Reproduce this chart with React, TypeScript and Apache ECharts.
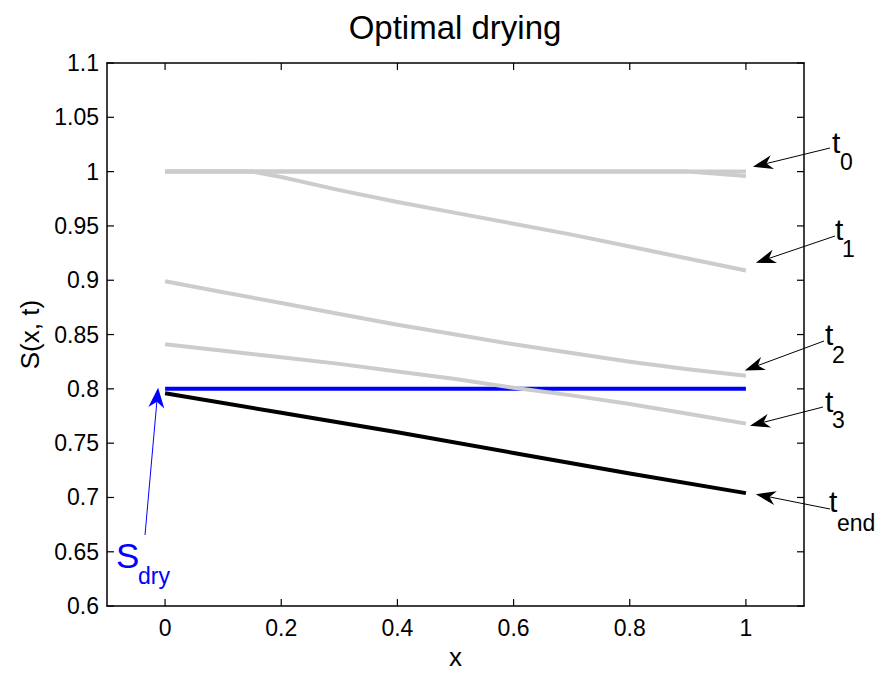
import React, { useEffect, useRef } from "react";
import * as echarts from "echarts";

const FONT = '"Liberation Sans", Arial, Helvetica, sans-serif';

// Axis ticks
const xTicks = [0, 0.2, 0.4, 0.6, 0.8, 1];
const yTicks = [0.6, 0.65, 0.7, 0.75, 0.8, 0.85, 0.9, 0.95, 1, 1.05, 1.1];

// Profiles S(x, t)
const xGrid = [0, 0.1, 0.2, 0.3, 0.4, 0.5, 0.6, 0.7, 0.8, 0.9, 1];

const t0X = [0, 1];
const t0Y = [1, 1];

const t0bX = [0, 0.9, 1];
const t0bY = [1, 1, 0.996];

const t1X = [0, 0.15, 0.2, 0.3, 0.4, 0.5, 0.6, 0.7, 0.8, 0.9, 1];
const t1Y = [1, 1, 0.995, 0.983, 0.972, 0.962, 0.952, 0.942, 0.931, 0.92, 0.909];

const t2Y = [0.899, 0.889, 0.879, 0.869, 0.859, 0.85, 0.841, 0.833, 0.825, 0.818, 0.812];
const t3Y = [0.841, 0.835, 0.829, 0.823, 0.816, 0.809, 0.801, 0.794, 0.786, 0.777, 0.768];

const sDryX = [0, 1];
const sDryY = [0.8, 0.8];

const tEndX = [0, 0.2, 0.4, 0.6, 0.8, 1];
const tEndY = [0.796, 0.778, 0.76, 0.741, 0.722, 0.704];

const pairs = (xs: number[], ys: number[]) => xs.map((x, i) => [x, ys[i]]);

// Annotation labels (arrow tip in data coordinates, text/tail in pixels)
const annotations = [
  { main: "t", sub: "0", tip: [1.012, 1.0044], tail: [830, 148], mx: 832, mBase: 153, sx: 840, sBase: 170 },
  { main: "t", sub: "1", tip: [1.017, 0.916], tail: [835, 236], mx: 835, mBase: 240, sx: 842, sBase: 257 },
  { main: "t", sub: "2", tip: [0.998, 0.817], tail: [824, 341], mx: 825, mBase: 345, sx: 832, sBase: 363 },
  { main: "t", sub: "3", tip: [1.007, 0.766], tail: [823, 407], mx: 825, mBase: 412, sx: 832, sBase: 428 },
  { main: "t", sub: "end", tip: [1.017, 0.703], tail: [830, 509], mx: 829, mBase: 512, sx: 837, sBase: 531 },
];

const GREY = "#cccccc";

function arrow(tail: number[], tip: number[], color: string, L: number, W: number, lw: number) {
  const dx = tip[0] - tail[0];
  const dy = tip[1] - tail[1];
  const len = Math.sqrt(dx * dx + dy * dy);
  const ux = dx / len;
  const uy = dy / len;
  const nx = -uy;
  const ny = ux;
  const back = [tip[0] - L * ux, tip[1] - L * uy];
  const notch = [tip[0] - 0.7 * L * ux, tip[1] - 0.7 * L * uy];
  return [
    {
      type: "line",
      silent: true,
      shape: { x1: tail[0], y1: tail[1], x2: notch[0], y2: notch[1] },
      style: { stroke: color, lineWidth: lw },
    },
    {
      type: "polygon",
      silent: true,
      shape: {
        points: [
          [tip[0], tip[1]],
          [back[0] + W * nx, back[1] + W * ny],
          [notch[0], notch[1]],
          [back[0] - W * nx, back[1] - W * ny],
        ],
      },
      style: { fill: color },
    },
  ];
}

function txt(text: string, x: number, base: number, size: number, color: string) {
  return {
    type: "text",
    silent: true,
    x,
    y: base - 0.3465 * size,
    style: {
      text,
      fill: color,
      font: `${size}px ${FONT}`,
      textAlign: "left",
      textVerticalAlign: "middle",
    },
  };
}

export default function App() {
  const ref = useRef<HTMLDivElement>(null);

  useEffect(() => {
    if (!ref.current) return;
    const chart = echarts.init(ref.current, null, { renderer: "svg" });

    const lineSeries = (name: string, data: number[][], color: string, width: number, z: number) => ({
      name,
      type: "line",
      data,
      showSymbol: false,
      symbol: "none",
      smooth: false,
      clip: false,
      z,
      lineStyle: { color, width, cap: "butt", join: "round" },
      emphasis: { disabled: true },
    });

    const labelStyle = { color: "#000", fontSize: 23, fontFamily: FONT };
    const axisLine = { show: true, onZero: false, lineStyle: { color: "#000", width: 1.5 } };
    const fmt = (v: number) => String(Math.round(v * 100) / 100);

    chart.setOption({
      animation: false,
      backgroundColor: "#ffffff",
      textStyle: { fontFamily: FONT },
      grid: { left: 107, right: 81, top: 63, bottom: 68, containLabel: false },
      xAxis: [
        {
          type: "value",
          min: -0.1,
          max: 1.1,
          position: "bottom",
          name: "x",
          nameLocation: "middle",
          nameGap: 36,
          nameTextStyle: { color: "#000", fontSize: 26, fontFamily: FONT },
          axisLine,
          axisTick: { show: false },
          axisLabel: { ...labelStyle, margin: 10, customValues: xTicks, formatter: fmt },
          splitLine: { show: false },
        },
        {
          type: "value",
          min: -0.1,
          max: 1.1,
          position: "top",
          axisLine,
          axisTick: { show: false },
          axisLabel: { show: false },
          splitLine: { show: false },
        },
      ],
      yAxis: [
        {
          type: "value",
          min: 0.6,
          max: 1.1,
          position: "left",
          name: "S(x, t)",
          nameLocation: "middle",
          nameRotate: 90,
          nameGap: 64,
          nameTextStyle: { color: "#000", fontSize: 26, fontFamily: FONT },
          axisLine,
          axisTick: { show: false },
          axisLabel: { ...labelStyle, margin: 8, customValues: yTicks, formatter: fmt },
          splitLine: { show: false },
        },
        {
          type: "value",
          min: 0.6,
          max: 1.1,
          position: "right",
          axisLine,
          axisTick: { show: false },
          axisLabel: { show: false },
          splitLine: { show: false },
        },
      ],
      series: [
        lineSeries("S_dry", pairs(sDryX, sDryY), "#0000ff", 4, 2),
        lineSeries("t0", pairs(t0X, t0Y), GREY, 4, 3),
        lineSeries("t0b", pairs(t0bX, t0bY), GREY, 4, 3),
        lineSeries("t1", pairs(t1X, t1Y), GREY, 4, 3),
        lineSeries("t2", pairs(xGrid, t2Y), GREY, 4, 3),
        lineSeries("t3", pairs(xGrid, t3Y), GREY, 4, 3),
        lineSeries("t_end", pairs(tEndX, tEndY), "#000000", 4, 4),
      ],
    });

    const toPx = (p: number[]) => chart.convertToPixel({ seriesIndex: 0 }, p) as number[];

    const elements: any[] = [];

    // Inward tick marks on all four sides, placed through the axis scales
    const TL = 7;
    const bottomY = toPx([0, 0.6])[1];
    const topY = toPx([0, 1.1])[1];
    const leftX = toPx([-0.1, 0.6])[0];
    const rightX = toPx([1.1, 0.6])[0];
    xTicks.forEach((v) => {
      const px = toPx([v, 0.6])[0];
      elements.push({ type: "line", silent: true, shape: { x1: px, y1: bottomY, x2: px, y2: bottomY - TL }, style: { stroke: "#000", lineWidth: 1.2 } });
      elements.push({ type: "line", silent: true, shape: { x1: px, y1: topY, x2: px, y2: topY + TL }, style: { stroke: "#000", lineWidth: 1.2 } });
    });
    yTicks.forEach((v) => {
      const py = toPx([0, v])[1];
      elements.push({ type: "line", silent: true, shape: { x1: leftX, y1: py, x2: leftX + TL, y2: py }, style: { stroke: "#000", lineWidth: 1.2 } });
      elements.push({ type: "line", silent: true, shape: { x1: rightX, y1: py, x2: rightX - TL, y2: py }, style: { stroke: "#000", lineWidth: 1.2 } });
    });

    // Title
    elements.push({
      type: "text",
      silent: true,
      x: 455,
      y: 39 - 0.3465 * 33,
      style: { text: "Optimal drying", fill: "#000", font: `33px ${FONT}`, textAlign: "center", textVerticalAlign: "middle" },
    });

    annotations.forEach((a) => {
      const tip = toPx(a.tip);
      elements.push(...arrow(a.tail, tip, "#000", 20, 7, 1));
      elements.push(txt(a.main, a.mx, a.mBase, 30, "#000"));
      elements.push(txt(a.sub, a.sx, a.sBase, 23, "#000"));
    });

    // S_dry annotation
    const sTip = toPx([-0.012, 0.801]);
    elements.push(...arrow([145, 535], sTip, "#0000ff", 20, 8, 1));
    elements.push(txt("S", 116, 568, 35, "#0000ff"));
    elements.push(txt("dry", 138, 584, 23, "#0000ff"));

    chart.setOption({ graphic: elements });

    return () => chart.dispose();
  }, []);

  return <div ref={ref} style={{ position: "fixed", left: 0, top: 0, width: 885, height: 675, background: "#fff" }} />;
}
